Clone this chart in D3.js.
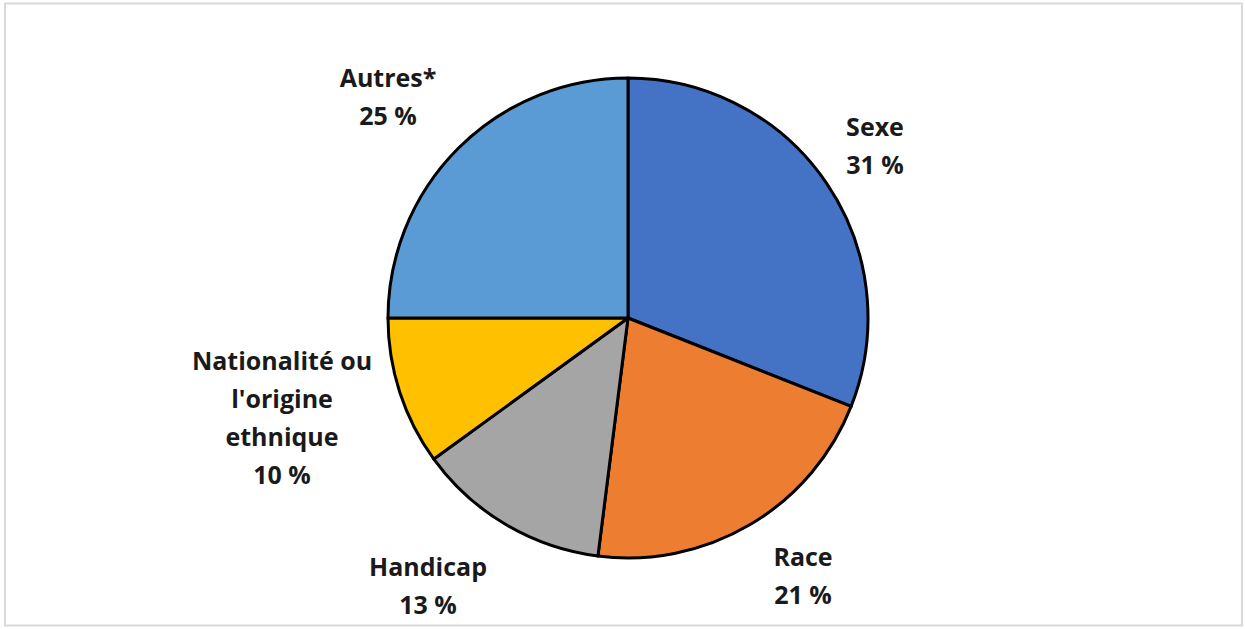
<!DOCTYPE html>
<html>
<head>
<meta charset="utf-8">
<script src="https://cdn.jsdelivr.net/npm/d3@7"></script>
<style>
  html, body { margin: 0; padding: 0; background: #fff; }
  svg { display: block; }
</style>
</head>
<body>
<svg id="chart" width="1245" height="629"></svg>
<script>
// data, clockwise from 12 o'clock
const categories = ['Sexe', 'Race', 'Handicap', 'Nationalité ou l\'origine ethnique', 'Autres*'];
const values = [31, 21, 13, 10, 25];
const colors = ['#4472C4', '#ED7D31', '#A5A5A5', '#FFC000', '#5B9BD5'];
// label lines (Excel wraps the long one)
const labelLines = [
  ['Sexe'],
  ['Race'],
  ['Handicap'],
  ['Nationalité ou', 'l\'origine', 'ethnique'],
  ['Autres*']
];

const width = 1245, height = 629;
const cx = 628, cy = 318, radius = 240;
const lineH = 38;

// label centres, offset from the pie centre
const labelPos = [[247, -172], [175, 258], [-200, 268], [-346, 100], [-240, -221]];

const svg = d3.select('#chart');

// outer frame
svg.append('rect')
  .attr('x', 5).attr('y', 3.5)
  .attr('width', 1237).attr('height', 622)
  .attr('fill', '#fff')
  .attr('stroke', '#d9d9d9')
  .attr('stroke-width', 2);

const data = categories.map((c, i) => ({ name: c, value: values[i], color: colors[i], lines: labelLines[i], pos: labelPos[i] }));

const pie = d3.pie().value(d => d.value).sort(null);
const arc = d3.arc().innerRadius(0).outerRadius(radius);

const g = svg.append('g').attr('transform', `translate(${cx},${cy})`);

g.selectAll('path.slice')
  .data(pie(data))
  .join('path')
  .attr('class', 'slice')
  .attr('d', arc)
  .attr('fill', d => d.data.color)
  .attr('stroke', '#000')
  .attr('stroke-width', 3)
  .attr('stroke-linejoin', 'round');

const labels = g.selectAll('text.lbl')
  .data(data)
  .join('text')
  .attr('class', 'lbl')
  .attr('text-anchor', 'middle')
  .attr('font-family', '"Open Sans", sans-serif')
  .attr('font-weight', 'bold')
  .attr('font-size', 25)
  .attr('fill', '#1a1a1a');

labels.each(function (d) {
  const all = d.lines.concat([`${d.value} %`]);
  const n = all.length;
  const firstBase = d.pos[1] - (n - 1) * lineH / 2 + 9;
  d3.select(this).selectAll('tspan')
    .data(all)
    .join('tspan')
    .attr('x', d.pos[0])
    .attr('y', (t, i) => firstBase + i * lineH)
    .text(t => t);
});
</script>
</body>
</html>
